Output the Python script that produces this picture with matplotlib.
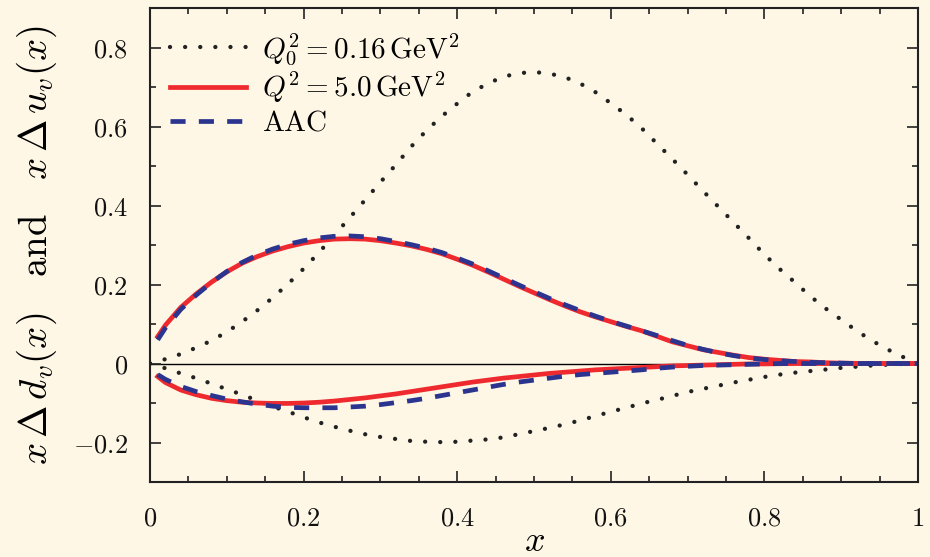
import numpy as np
import matplotlib
matplotlib.use("Agg")
import matplotlib.pyplot as plt
from matplotlib.ticker import MultipleLocator, FuncFormatter

plt.rcParams['mathtext.fontset'] = 'cm'
plt.rcParams['font.family'] = ['DejaVu Serif']

bg = '#fef7e6'

# input scale Q0^2 = 0.16 GeV^2 (x from 0 to 1 in steps of 0.02)
x_q0 = np.round(np.arange(0, 1.0001, 0.02), 2)
u_q0 = [0.0, 0.011, 0.024, 0.040, 0.058, 0.080, 0.106, 0.135, 0.167, 0.202,
        0.240, 0.281, 0.325, 0.369, 0.414, 0.459, 0.503, 0.549, 0.590, 0.626,
        0.658, 0.688, 0.709, 0.726, 0.735, 0.738, 0.734, 0.725, 0.709, 0.687,
        0.659, 0.630, 0.596, 0.557, 0.518, 0.478, 0.437, 0.397, 0.357, 0.317,
        0.276, 0.239, 0.205, 0.170, 0.139, 0.111, 0.083, 0.058, 0.036, 0.017,
        0.0]
d_q0 = [0.0, -0.012, -0.025, -0.037, -0.051, -0.065, -0.079, -0.094, -0.109, -0.122,
        -0.136, -0.149, -0.160, -0.170, -0.179, -0.186, -0.191, -0.196, -0.198, -0.199,
        -0.198, -0.195, -0.192, -0.187, -0.179, -0.171, -0.163, -0.154, -0.144, -0.133,
        -0.122, -0.112, -0.101, -0.092, -0.082, -0.072, -0.064, -0.056, -0.048, -0.041,
        -0.034, -0.028, -0.023, -0.019, -0.015, -0.011, -0.008, -0.005, -0.003, -0.001,
        0.0]

# evolved to Q^2 = 5 GeV^2, and the AAC fit (x from 0.01)
x_q = np.concatenate([[0.01], x_q0[1:]])
u_q = [0.068, 0.097, 0.142, 0.176, 0.206, 0.232, 0.254, 0.271, 0.285, 0.296,
       0.305, 0.311, 0.315, 0.316, 0.315, 0.311, 0.305, 0.298, 0.289, 0.278,
       0.264, 0.249, 0.232, 0.214, 0.196, 0.179, 0.162, 0.146, 0.131, 0.118,
       0.106, 0.094, 0.083, 0.069, 0.055, 0.045, 0.035, 0.028, 0.021, 0.015,
       0.011, 0.008, 0.005, 0.004, 0.002, 0.001, 0.0005, 0.0, 0.0, 0.0,
       0.0]
d_q = [-0.033, -0.048, -0.067, -0.079, -0.088, -0.094, -0.098, -0.100, -0.101, -0.101,
       -0.100, -0.098, -0.095, -0.091, -0.087, -0.082, -0.077, -0.071, -0.065, -0.059,
       -0.053, -0.047, -0.042, -0.037, -0.033, -0.029, -0.025, -0.022, -0.019, -0.016,
       -0.014, -0.012, -0.010, -0.008, -0.006, -0.005, -0.004, -0.003, -0.002, -0.001,
       -0.001, -0.0005, 0.0, 0.0, 0.0, 0.0, 0.0, 0.0, 0.0, 0.0,
       0.0]
u_aac = [0.060, 0.090, 0.137, 0.173, 0.205, 0.233, 0.256, 0.275, 0.290, 0.302,
         0.311, 0.318, 0.322, 0.323, 0.321, 0.316, 0.309, 0.301, 0.292, 0.281,
         0.267, 0.252, 0.235, 0.217, 0.199, 0.182, 0.165, 0.149, 0.134, 0.120,
         0.107, 0.095, 0.083, 0.071, 0.058, 0.046, 0.036, 0.027, 0.020, 0.014,
         0.010, 0.007, 0.005, 0.003, 0.002, 0.001, 0.0, 0.0, 0.0, 0.0,
         0.0]
d_aac = [-0.028, -0.040, -0.058, -0.071, -0.081, -0.090, -0.097, -0.103, -0.108, -0.111,
         -0.112, -0.112, -0.112, -0.110, -0.108, -0.104, -0.099, -0.094, -0.088, -0.081,
         -0.074, -0.067, -0.060, -0.053, -0.047, -0.042, -0.037, -0.032, -0.028, -0.025,
         -0.022, -0.019, -0.016, -0.012, -0.009, -0.007, -0.005, -0.004, -0.003, -0.002,
         -0.001, 0.0, 0.0, 0.0, 0.0, 0.0, 0.0, 0.0, 0.0, 0.0,
         0.0]

labels = [r'$Q_0^2 = 0.16\,\mathrm{GeV}^2$', r'$Q^2 = 5.0\,\mathrm{GeV}^2$', r'$\mathrm{AAC}$']

fig = plt.figure(figsize=(9.3, 5.57), dpi=100, facecolor=bg)
ax = fig.add_axes([0.1613, 0.1346, 0.8258, 0.851], facecolor=bg)

ax.axhline(0, color='black', lw=1.0, zorder=1)

dot_kw = dict(color='#222222', lw=3.1, linestyle=(0, (0.01, 3.5)), dash_capstyle='round')
ax.plot(x_q0, u_q0, label=labels[0], **dot_kw)
ax.plot(x_q0, d_q0, **dot_kw)

ax.plot(x_q, u_q, color='#ee2a2f', lw=3.4, label=labels[1])
ax.plot(x_q, d_q, color='#ee2a2f', lw=3.4)

dash_kw = dict(color='#2b3590', lw=3.4, linestyle=(0, (3.2, 2.8)))
ax.plot(x_q, u_aac, label=labels[2], **dash_kw)
ax.plot(x_q, d_aac, **dash_kw)

ax.set_xlim(0, 1)
ax.set_ylim(-0.3, 0.9)

ax.xaxis.set_major_locator(MultipleLocator(0.2))
ax.xaxis.set_minor_locator(MultipleLocator(0.05))
ax.yaxis.set_major_locator(MultipleLocator(0.2))
ax.yaxis.set_minor_locator(MultipleLocator(0.1))


def tick_fmt(v, pos):
    v = round(v, 2)
    if v == 0:
        return r'$0$'
    return r'$%g$' % v


ax.xaxis.set_major_formatter(FuncFormatter(tick_fmt))
ax.yaxis.set_major_formatter(FuncFormatter(tick_fmt))

ax.tick_params(which='both', direction='in', top=True, right=True, width=1.2, colors='#222222')
ax.tick_params(which='major', length=8, labelsize=19, labelcolor='#111111')
ax.tick_params(which='minor', length=4)
ax.tick_params(axis='x', which='major', pad=17)
ax.tick_params(axis='y', which='major', pad=16)
for s in ax.spines.values():
    s.set_linewidth(1.5)
    s.set_color('#222222')

ax.set_xlabel(r'$x$', fontsize=26)
ax.xaxis.set_label_coords(0.5, -0.088)
ax.set_ylabel(r'$x\,\Delta\,d_v(x)\ \ \ \mathrm{and}\ \ \ x\,\Delta\,u_v(x)$', fontsize=28)
ax.yaxis.set_label_coords(-0.118, 0.5)

ax.legend(loc='upper left', frameon=False, fontsize=21, handlelength=2.6,
          handletextpad=0.55, labelspacing=0.12, borderaxespad=0.3,
          bbox_to_anchor=(0.0, 0.995))

fig.savefig('out.png', dpi=100, facecolor=bg)
